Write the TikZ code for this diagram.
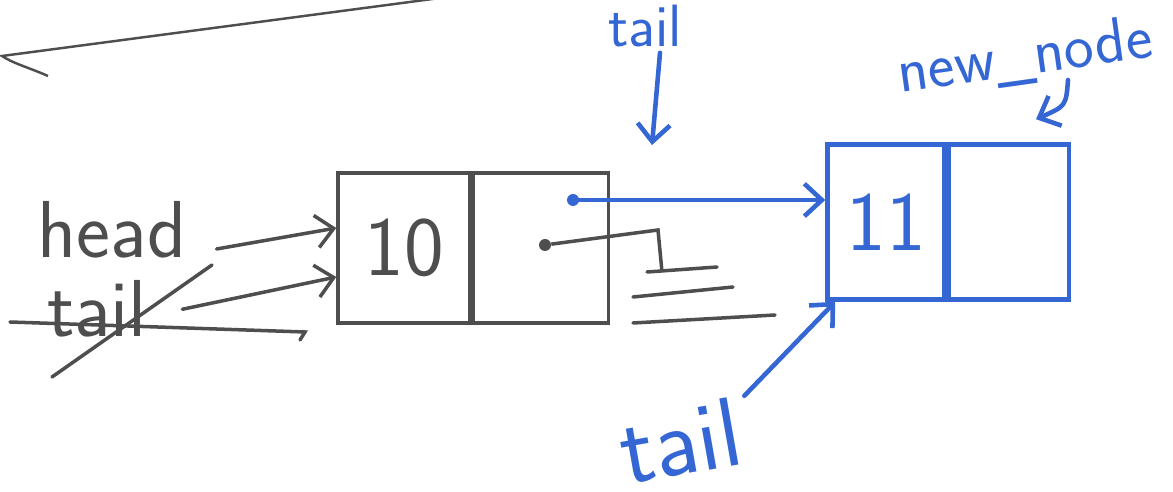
\documentclass[tikz,border=0pt]{standalone}
\usepackage{tikz}
\usetikzlibrary{arrows.meta, positioning}
\usepackage{xcolor}
\definecolor{inkgray}{RGB}{78,78,78}
\definecolor{penblue}{RGB}{52,102,212}

\begin{document}
\begin{tikzpicture}[
    x=0.02cm, y=-0.02cm,
    cell/.style={rectangle, inner sep=0pt, minimum height=3cm,
                 font=\fontsize{48}{48}\selectfont\sffamily},
    ink/.style={draw=inkgray, text=inkgray, line width=2pt},
    pen/.style={draw=penblue, text=penblue, line width=2.6pt},
    hand/.style={inner sep=0pt, font=\fontsize{46}{46}\selectfont\sffamily},
    arrow/.style={-{Straight Barb[length=3.5mm, width=6.5mm]}, line cap=round},
    dot/.style={circle, inner sep=0pt, minimum size=0.24cm}
]
    \useasboundingbox (0,0) rectangle (1173,492);

    % list before the insert
    \node[cell, ink, minimum width=2.64cm] (val1) at (404,248) {10};
    \node[cell, ink, minimum width=2.7cm, right=0pt of val1] (next1) {};
    \node[hand, text=inkgray, anchor=base] (head) at (112,258) {head};
    \node[hand, text=inkgray, anchor=base] (oldtail) at (97,337) {tail};
    \draw[ink, arrow] ([shift={(0.6cm,0.2cm)}]head.south east) -- ([yshift=0.4cm]val1.west);
    \draw[ink, arrow] ([xshift=0.7cm]oldtail.east) -- ([yshift=-0.58cm]val1.west);
    % old tail is crossed out
    \draw[ink, line cap=round] (10,322) -- (305,332) -- (300,340);
    \draw[ink, line cap=round] (52,377) -- (212,265);

    % next of 10 was NULL
    \node[dot, fill=inkgray] (nil) at (545,245) {};
    \coordinate (bend) at (658,230);
    \coordinate (gnd) at (662,272);
    \draw[ink] (nil) -- (bend) -- (gnd);
    \draw[ink, line cap=round] ([xshift=-0.3cm]gnd) -- ++(70,-5);
    \draw[ink, line cap=round] (633,297) -- (733,287);
    \draw[ink, line cap=round] (633,323) -- (775,315);
    \draw[ink, line width=1.4pt] (440,-2) -- (2,56) .. controls (12,63) and (30,68) .. (48,76);

    % the new node
    \node[cell, pen, minimum width=2.34cm, minimum height=3.1cm] (val2) at (886,222) {11};
    \node[cell, pen, minimum width=2.4cm, minimum height=3.1cm, right=0pt of val2] (next2) {};
    \node[dot, fill=penblue] (ptr) at (573,200) {};
    \draw[pen, arrow] (ptr) -- (val2.west |- ptr);

    \node[hand, text=penblue, font=\fontsize{34}{34}\selectfont\sffamily, anchor=base] (toptail) at (645,47) {tail};
    \coordinate (toptip) at (652,145);
    \draw[pen, arrow] ([shift={(0.3cm,-0.1cm)}]toptail.south) -- (toptip);

    \node[hand, text=penblue, font=\fontsize{36}{36}\selectfont\sffamily, rotate=8] (newnode) at (1025,58) {new\_node};
    \coordinate (newfrom) at (1068,80);
    \draw[pen, arrow] (newfrom) .. controls (1066,106) .. ([shift={(0.54cm,0.46cm)}]next2.north);

    \node[hand, text=penblue, font=\fontsize{56}{56}\selectfont\sffamily, rotate=10, anchor=base] (newtail) at (686,474) {tail};
    \draw[pen, arrow] ([xshift=0.2cm]newtail.north east) -- ([xshift=0.2cm]val2.south west);
\end{tikzpicture}
\end{document}
